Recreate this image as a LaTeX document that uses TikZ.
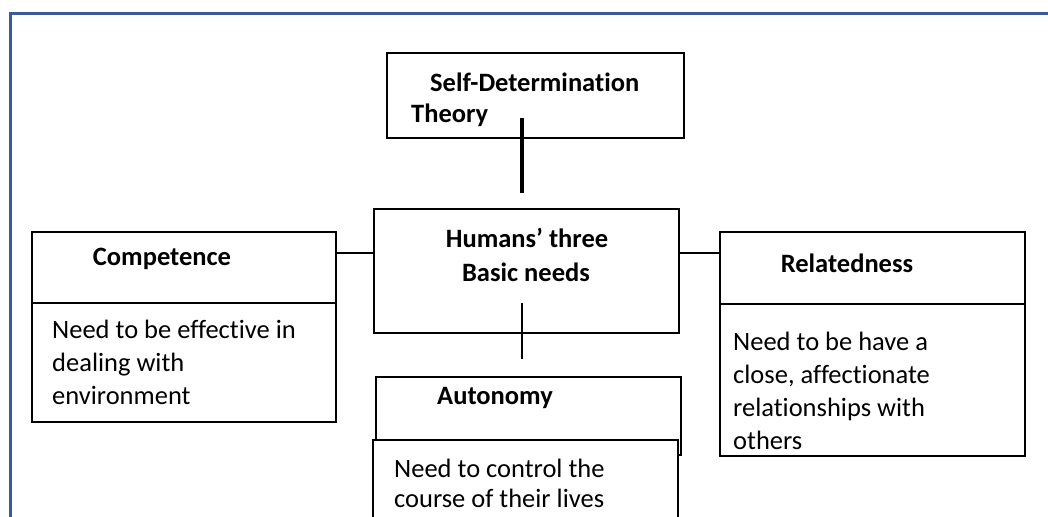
\documentclass[tikz,border=0pt]{standalone}
\usepackage{fontspec}
\setmainfont{Carlito}[Ligatures={NoCommon}]
\begin{document}
\begin{tikzpicture}[x=1pt,y=-1pt,
  box/.style={draw=black,line width=1.8pt,fill=white,inner sep=0pt,rectangle},
  ttl/.style={font=\fontsize{26.5}{32}\selectfont\bfseries,inner sep=0pt,anchor=west},
  bodytxt/.style={font=\fontsize{26.5}{33}\selectfont,inner sep=0pt,anchor=north west,align=left},
  link/.style={draw=black,line width=1.3pt},
  thick link/.style={draw=black,line width=4pt}]
\useasboundingbox (0,0) rectangle (1048,516);
\clip (0,0) rectangle (1048,516);
% outer frame
\draw[line width=3pt,draw={rgb,255:red,58;green,90;blue,154}] (1060,14) -- (10,14) -- (10,530);
% boxes
\node[box,minimum width=297pt,minimum height=85pt] (sdt) at (535.5,95.5) {};
\node[box,minimum width=305pt,minimum height=124pt] (hum) at (526.5,271) {};
\node[box,minimum width=304pt,minimum height=71pt] (compT) at (184,267.5) {};
\node[box,minimum width=304pt,minimum height=119pt] (compB) at (184,362.5) {};
\node[box,minimum width=305pt,minimum height=72pt] (relT) at (872.5,268) {};
\node[box,minimum width=305pt,minimum height=152pt] (relB) at (872.5,380) {};
\node[box,minimum width=305pt,minimum height=78pt] (autT) at (528.5,416) {};
\node[box,minimum width=305pt,minimum height=100pt] (autB) at (525.5,490) {};
% texts
\node[ttl] (tsdt1) at (430,82) {Self-Determination};
\node[ttl] (tsdt2) at (411,115) {Theory};
\node[ttl,anchor=center] (thum1) at (527,238) {Humans’ three};
\node[ttl,anchor=center] (thum2) at (526,272) {Basic needs};
\node[ttl,anchor=center] (tcomp) at (162,259) {Competence};
\node[ttl,anchor=center] (trel) at (847,263) {Relatedness};
\node[ttl,anchor=center] (taut) at (495,398) {Autonomy};
\node[bodytxt] (bcomp) at (52,320) {Need to be effective in\\dealing with\\environment};
\node[bodytxt] (brel) at (733,332) {Need to be have a\\close, affectionate\\relationships with\\others};
\node[bodytxt,font=\fontsize{26.5}{30}\selectfont] (baut) at (394,459) {Need to control the\\course of their lives};
% connectors
\coordinate (sdtA) at (522,118);
\coordinate (sdtB) at (522,193);
\draw[thick link] (sdtA) -- (sdtB);
\coordinate (hl) at (0,253);
\draw[link] (hl -| compT.east) -- (hl -| hum.west);
\draw[link] (hl -| hum.east) -- (hl -| relT.west);
\coordinate (humA) at (522,303);
\coordinate (humB) at (522,359);
\draw[link] (humA) -- (humB);
\end{tikzpicture}
\end{document}
